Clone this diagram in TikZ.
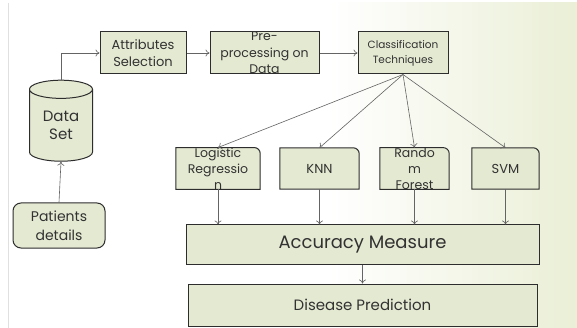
\documentclass[tikz,border=0pt]{standalone}
\usepackage{fontspec}
\setmainfont{Poppins}
\usetikzlibrary{shapes.geometric,arrows.meta,backgrounds}
\definecolor{boxfill}{RGB}{228,233,210}
\definecolor{boxline}{RGB}{45,45,45}
\definecolor{txtgray}{RGB}{50,50,50}
\definecolor{arrgray}{RGB}{100,100,100}
\definecolor{slidegreen}{RGB}{234,239,214}
\tikzset{
	blk/.style={draw=boxline, fill=boxfill, line width=1pt, inner sep=0pt, align=center, text=txtgray},
	algo/.style={inner sep=0pt, align=center, text=txtgray, minimum width=#1, minimum height=41},
	link/.style={draw=arrgray, line width=0.6pt, -{To[length=4pt,width=7pt]}}
}
\begin{document}
\begin{tikzpicture}[x=1pt,y=-1pt,font=\fontsize{13}{17}\selectfont]
			\useasboundingbox (0,0) rectangle (577,328);
			\begin{scope}[on background layer]
			\fill[white] (0,0) rectangle (577,328);
			\shade[left color=white, right color=slidegreen] (330,3) rectangle (577,328);
			\draw[black!12] (8,3) -- (8,328);
			\end{scope}
			\node[blk, minimum width=86, minimum height=42] (attr) at (143,53) {Attributes\\Selection};
			\node[blk, minimum width=109, minimum height=42,
				label={[align=center, text=txtgray, font=\fontsize{12.5}{16.5}\selectfont]center:Pre-\\processing on\\Data}] (pre) at (264.5,53) {};
			\node[blk, minimum width=90, minimum height=42, font=\fontsize{10.5}{15}\selectfont] (cls) at (403,53) {Classification\\Techniques};
			\node[blk, cylinder, shape border rotate=90, aspect=0.5, minimum width=63, minimum height=81,
				font=\fontsize{15}{18}\selectfont] (data) at (61,125.5) {Data\\Set};
			\node[blk, rounded corners=8pt, minimum width=92, minimum height=45, font=\fontsize{14}{19}\selectfont] (pat) at (59,225.5) {Patients\\details};
			\node[algo=84, font=\fontsize{12.5}{16}\selectfont] (lr) at (218,168.5) {Logistic\\Regressio\\n};
			\node[algo=79] (knn) at (319.5,168.5) {KNN};
			\node[algo=69, font=\fontsize{12.5}{16}\selectfont] (rf) at (414.5,168.5) {Rando\\m\\Forest};
			\node[algo=67] (svm) at (505.5,168.5) {SVM};
			\begin{scope}[on background layer]
			\foreach \n in {lr,knn,rf,svm}
				\filldraw[draw=boxline, fill=boxfill, line width=1pt] (\n.north) [rounded corners=6pt] -- (\n.north east) -- (\n.east) [sharp corners] -- (\n.south east) -- (\n.south west) -- (\n.north west) -- cycle;
			\end{scope}
			\node[blk, minimum width=353, minimum height=39, font=\fontsize{18}{20}\selectfont] (acc) at (362.5,244.5) {Accuracy Measure};
			\node[blk, minimum width=349, minimum height=42, font=\fontsize{15}{18}\selectfont] (dis) at (362.5,305) {Disease Prediction};
			\draw[link] (data.north) |- (attr.west);
			\draw[link] (attr) -- (pre);
			\draw[link] (pre) -- (cls);
			\draw[link] (pat.north) -- (data.south);
			\foreach \n in {lr,knn,rf,svm}
				\draw[link] (cls.south) -- (\n.north);
			\foreach \n in {lr,knn,rf,svm}
				\draw[link] (\n.south) -- (\n.south |- acc.north);
			\draw[link] (acc) -- (dis);
		\end{tikzpicture}
\end{document}
